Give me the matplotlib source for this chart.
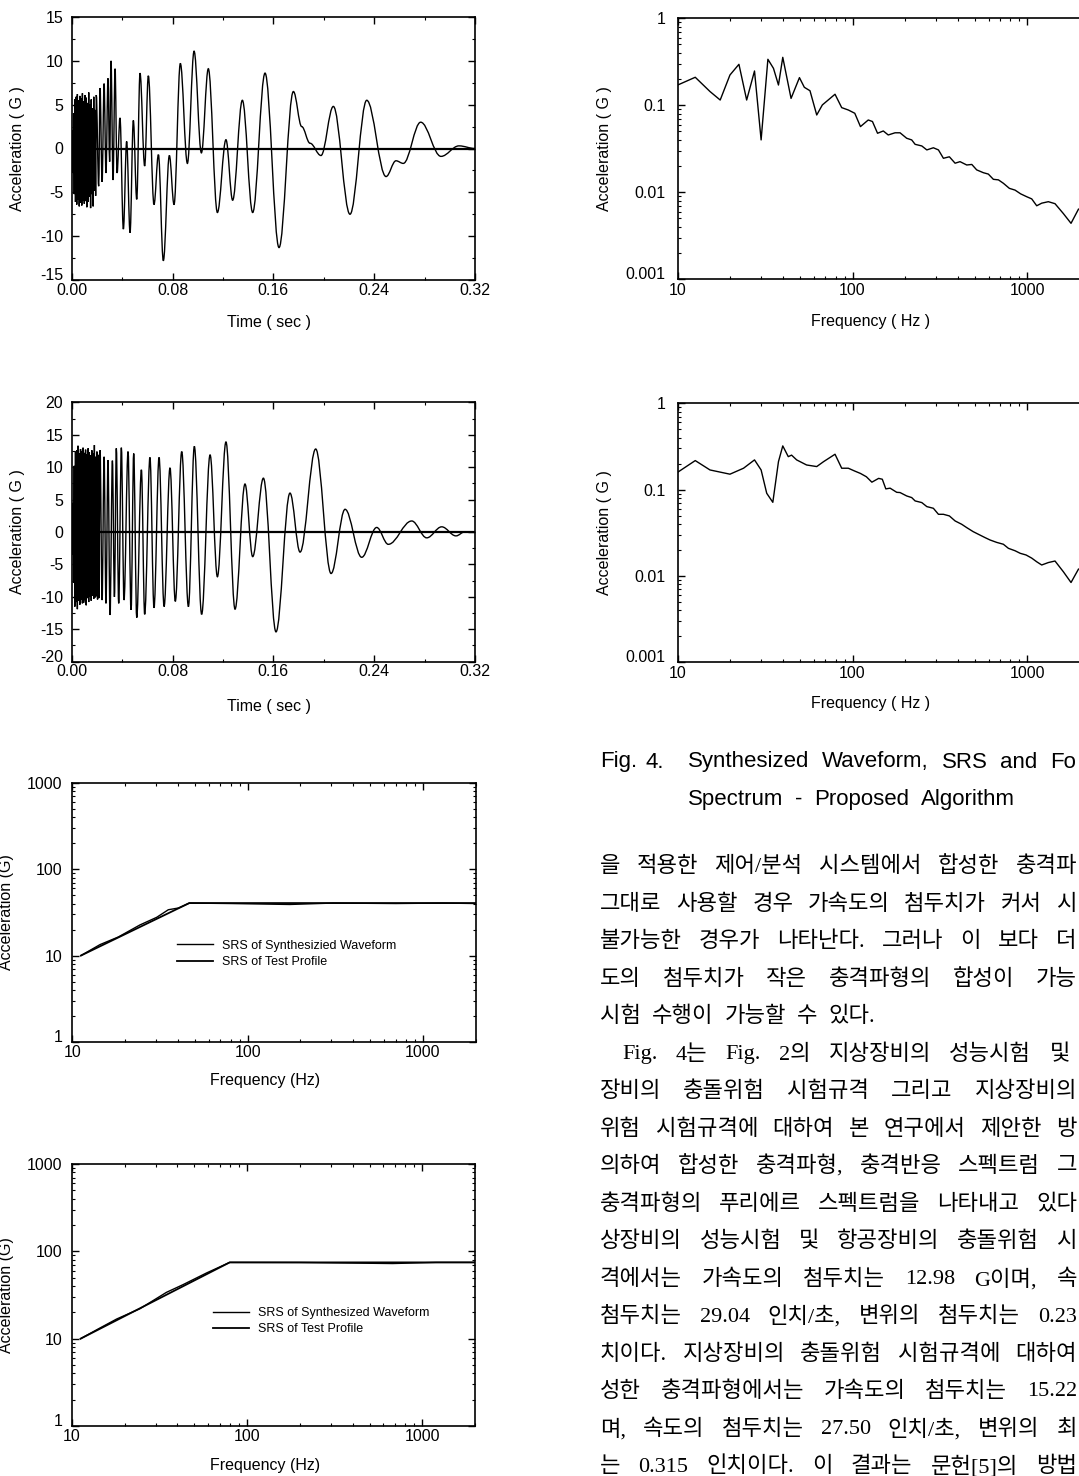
import matplotlib
matplotlib.use("Agg")
import matplotlib.pyplot as plt
from matplotlib.path import Path
from matplotlib.patches import PathPatch
from matplotlib.ticker import (FixedLocator, FixedFormatter, MultipleLocator,
                               LogLocator, NullFormatter)

plt.rcParams['font.family'] = ['Liberation Sans', 'DejaVu Sans']
plt.rcParams['axes.unicode_minus'] = False

# ---------------- data ----------------
TIME_TICKS = [0.00, 0.08, 0.16, 0.24, 0.32]
TIME_LABELS = ['0.00', '0.08', '0.16', '0.24', '0.32']

# waveform 1 : extrema (time s, acceleration G)
W1_DENSE_T = [0.0000, 0.0005, 0.0010, 0.0015, 0.0020, 0.0025, 0.0030, 0.0035, 0.0040, 0.0045,
              0.0050, 0.0055, 0.0060, 0.0065, 0.0070, 0.0075, 0.0080, 0.0085, 0.0090, 0.0095,
              0.0100, 0.0105, 0.0110, 0.0115, 0.0120, 0.0125, 0.0130, 0.0135, 0.0140, 0.0145,
              0.0150, 0.0155, 0.0160, 0.0165, 0.0170, 0.0175, 0.0180, 0.0185, 0.0190, 0.0195]
W1_DENSE_A = [0.0, 2.1, -2.8, 4.0, -5.2, 5.6, -6.1, 5.9, -6.4, 6.2,
              -5.8, 5.5, -6.6, 6.0, -6.2, 5.7, -6.5, 6.3, -5.9, 5.4,
              -6.3, 6.1, -6.0, 5.8, -6.7, 5.2, -6.1, 6.4, -5.5, 5.0,
              -6.8, 5.6, -5.2, 4.6, -6.6, 5.9, -4.8, 4.4, -5.4, 6.1]
W1_T = [0.0214, 0.0225, 0.0241, 0.0257, 0.0272, 0.0288, 0.0301, 0.0312, 0.0328, 0.0344,
        0.0360, 0.0383, 0.0410, 0.0436, 0.0463, 0.0489, 0.0516, 0.0542, 0.0579, 0.0608,
        0.0653, 0.0688, 0.0727, 0.0775, 0.0812, 0.0862, 0.0918, 0.0971, 0.1029, 0.1084,
        0.1156, 0.1224, 0.1277, 0.1354, 0.1436, 0.1534, 0.1645, 0.1759, 0.1825, 0.1891,
        0.1978, 0.2076, 0.2208, 0.2341, 0.2494, 0.2573, 0.2631, 0.2769, 0.2930, 0.3073, 0.3200]
W1_A = [-4.3, 6.9, -3.8, 7.4, -2.8, 8.0, -1.5, 10.0, -3.6, 9.1,
        -2.8, 3.5, -9.2, 0.8, -9.6, 3.2, -5.8, 8.6, -2.0, 8.3,
        -6.4, -0.7, -12.8, -0.8, -6.4, 9.7, -1.7, 11.1, -0.5, 9.1,
        -7.3, 1.0, -5.9, 5.5, -7.3, 8.6, -11.3, 6.5, 2.5, 0.6,
        -0.8, 4.8, -7.5, 5.5, -3.2, -1.4, -1.7, 3.0, -0.9, 0.3, 0.0]

# waveform 2
W2_DENSE_T = [0.0000, 0.0005, 0.0010, 0.0015, 0.0020, 0.0025, 0.0030, 0.0035, 0.0040, 0.0045,
              0.0050, 0.0055, 0.0060, 0.0065, 0.0070, 0.0075, 0.0080, 0.0085, 0.0090, 0.0095,
              0.0100, 0.0105, 0.0110, 0.0115, 0.0120, 0.0125, 0.0130, 0.0135, 0.0140, 0.0145,
              0.0150, 0.0155, 0.0160, 0.0165, 0.0170, 0.0175, 0.0180, 0.0185, 0.0190, 0.0195,
              0.0200, 0.0205, 0.0210, 0.0215]
W2_DENSE_A = [0.0, -3.5, 4.5, -7.8, 10.2, -11.5, 12.4, -10.8, 12.6, -11.9,
              13.3, -10.6, 12.1, -11.2, 12.8, -10.4, 12.5, -11.0, 13.0, -10.9,
              12.2, -10.5, 12.7, -11.3, 12.0, -10.2, 12.9, -10.8, 12.3, -10.0,
              11.8, -10.6, 12.6, -9.8, 12.1, -10.3, 13.4, -10.1, 11.6, -9.9,
              12.4, -10.4, 11.9, -10.2]
W2_T = [0.0225, 0.0241, 0.0257, 0.0272, 0.0288, 0.0304, 0.0323, 0.0339, 0.0354, 0.0373,
        0.0394, 0.0415, 0.0447, 0.0471, 0.0492, 0.0516, 0.0553, 0.0579, 0.0621, 0.0653,
        0.0693, 0.0733, 0.0780, 0.0822, 0.0873, 0.0926, 0.0973, 0.1031, 0.1098, 0.1156,
        0.1224, 0.1296, 0.1375, 0.1436, 0.1521, 0.1621, 0.1732, 0.1812, 0.1936, 0.2058,
        0.2169, 0.2301, 0.2420, 0.2512, 0.2698, 0.2817, 0.2936, 0.3049, 0.3121, 0.3200]
W2_A = [12.6, -10.5, 11.6, -11.0, 11.1, -12.8, 11.0, -10.0, 12.9, -11.0,
        13.0, -10.5, 12.4, -12.0, 12.1, -13.2, 9.6, -12.7, 11.5, -11.7,
        11.5, -11.5, 9.9, -10.7, 12.4, -11.5, 13.2, -12.7, 11.9, -6.9,
        13.9, -11.9, 7.4, -3.8, 8.3, -15.4, 6.0, -3.1, 12.8, -6.4,
        3.5, -3.9, 0.7, -1.9, 1.7, -0.9, 0.8, -0.6, 0.05, 0.0]

# Fourier spectra (Hz, G)
SPEC1_F = [10, 12.6, 15.3, 17.5, 19.9, 22.4, 24.8, 27.5, 30.0, 32.8, 35.3, 37.7, 39.9, 44.5, 49.7,
           53.0, 57.1, 62.4, 67.2, 79.4, 86.7, 94.6, 103, 111, 123, 130, 139, 150, 160, 175,
           187, 204, 218, 228, 249, 266, 290, 310, 331, 358, 386, 412, 450, 481, 513,
           560, 598, 639, 683, 729, 789, 850, 915, 991, 1059, 1131, 1208, 1318, 1439, 1606,
           1777, 1960]
SPEC1_A = [0.171, 0.210, 0.144, 0.115, 0.223, 0.296, 0.115, 0.248, 0.040, 0.338, 0.266, 0.171,
           0.356, 0.120, 0.208, 0.161, 0.147, 0.0774, 0.101, 0.134, 0.094, 0.0883, 0.081,
           0.0569, 0.0678, 0.0651, 0.0477, 0.0507, 0.0456, 0.0483, 0.0483, 0.0418, 0.040,
           0.0356, 0.0341, 0.0307, 0.0325, 0.0307, 0.0246, 0.0256, 0.0216, 0.0225, 0.0206,
           0.0209, 0.0181, 0.0168, 0.0162, 0.0141, 0.0139, 0.0127, 0.0111, 0.0106, 0.0096,
           0.0089, 0.0084, 0.0070, 0.0075, 0.0078, 0.0074, 0.0057, 0.0044, 0.0064]
SPEC2_F = [10, 12.6, 15.3, 19.9, 23.8, 27.5, 30.0, 32.3, 35.0, 37.7, 39.9, 42.9, 44.8, 47.9, 54.6,
           62.4, 68.3, 79.4, 86.7, 94.6, 103, 111, 120, 129, 141, 148, 155, 164, 179, 187,
           204, 218, 228, 249, 266, 290, 310, 331, 358, 386, 421, 450, 490, 523, 573,
           612, 667, 729, 779, 850, 910, 983, 1059, 1131, 1208, 1318, 1439, 1606, 1777, 1960]
SPEC2_A = [0.159, 0.217, 0.169, 0.151, 0.177, 0.221, 0.169, 0.0907, 0.0713, 0.211, 0.321, 0.241,
           0.251, 0.221, 0.193, 0.185, 0.211, 0.257, 0.177, 0.177, 0.164, 0.154, 0.141, 0.122,
           0.135, 0.132, 0.102, 0.104, 0.0931, 0.0925, 0.0845, 0.0809, 0.074, 0.0708, 0.0636,
           0.0608, 0.0518, 0.0518, 0.0496, 0.0434, 0.0397, 0.0363, 0.0326, 0.0305, 0.0278,
           0.0261, 0.0245, 0.0233, 0.0209, 0.0196, 0.0183, 0.0175, 0.0161, 0.0146, 0.0134,
           0.0143, 0.0149, 0.0112, 0.0084, 0.012]

# Shock response spectra (Hz, G)
SRS1_SYN_F = [11.2, 14.4, 18.3, 24.3, 30.3, 35.3, 40.3, 46.5, 80, 174, 308, 700, 1300, 2000]
SRS1_SYN_A = [10.0, 13.4, 16.4, 22.6, 27.7, 33.9, 35.5, 40.5, 40.0, 39.0, 40.5, 40.0, 40.5, 40.0]
SRS1_PRO_F = [11.2, 46.5, 2000]
SRS1_PRO_A = [10.0, 40.5, 40.5]
SRS2_SYN_F = [11.2, 14.4, 18.0, 24.4, 34.6, 43.0, 58.6, 79.5, 200, 677, 1200, 2000]
SRS2_SYN_A = [10.0, 13.2, 16.8, 22.0, 33.9, 41.5, 56.5, 74.7, 74.5, 72.5, 74.7, 74.7]
SRS2_PRO_F = [11.2, 79.5, 2000]
SRS2_PRO_A = [10.0, 74.7, 74.7]

SRS1_LABELS = ['SRS of Synthesizied Waveform', 'SRS of Test Profile']
SRS2_LABELS = ['SRS of Synthesized Waveform', 'SRS of Test Profile']

CAPTION = [["Fig.", "4."],
           ["Synthesized", "Waveform,", "SRS", "and", "Fo"],
           ["Spectrum", "-", "Proposed", "Algorithm"]]

BODY = [
    ["을", "적용한", "제어/분석", "시스템에서", "합성한", "충격파"],
    ["그대로", "사용할", "경우", "가속도의", "첨두치가", "커서", "시"],
    ["불가능한", "경우가", "나타난다.", "그러나", "이", "보다", "더"],
    ["도의", "첨두치가", "작은", "충격파형의", "합성이", "가능"],
    ["시험", "수행이", "가능할", "수", "있다."],
    ["Fig.", "4는", "Fig.", "2의", "지상장비의", "성능시험", "및"],
    ["장비의", "충돌위험", "시험규격", "그리고", "지상장비의"],
    ["위험", "시험규격에", "대하여", "본", "연구에서", "제안한", "방"],
    ["의하여", "합성한", "충격파형,", "충격반응", "스펙트럼", "그"],
    ["충격파형의", "푸리에르", "스펙트럼을", "나타내고", "있다"],
    ["상장비의", "성능시험", "및", "항공장비의", "충돌위험", "시"],
    ["격에서는", "가속도의", "첨두치는", "12.98", "G이며,", "속"],
    ["첨두치는", "29.04", "인치/초,", "변위의", "첨두치는", "0.23"],
    ["치이다.", "지상장비의", "충돌위험", "시험규격에", "대하여"],
    ["성한", "충격파형에서는", "가속도의", "첨두치는", "15.22"],
    ["며,", "속도의", "첨두치는", "27.50", "인치/초,", "변위의", "최"],
    ["는", "0.315", "인치이다.", "이", "결과는", "문헌[5]의", "방법"],
]
# layout for body lines: (y centre px, left px, right px or None for natural spacing)
BODY_LAYOUT = [(867, 600, 1077), (905, 600, 1077), (942, 600, 1076), (980, 600, 1077),
               (1017, 600, None), (1055, 622, 1070), (1092, 600, 1077), (1130, 600, 1077),
               (1167, 600, 1077), (1205, 600, 1077), (1242, 600, 1077), (1280, 600, 1077),
               (1317, 600, 1077), (1355, 600, 1077), (1392, 600, 1077), (1430, 600, 1077),
               (1467, 600, 1077)]

# ---------------- figure ----------------
W, H = 1079, 1476
fig = plt.figure(figsize=(W / 100, H / 100), dpi=100)
fig.patch.set_facecolor('white')


def rect(l, r, t, b):
    return [l / W, 1 - b / H, (r - l) / W, (b - t) / H]


def smooth_path(t, a, k=0.364):
    verts = [(t[0], a[0])]
    codes = [Path.MOVETO]
    for i in range(len(t) - 1):
        dt = t[i + 1] - t[i]
        verts += [(t[i] + k * dt, a[i]), (t[i + 1] - k * dt, a[i + 1]), (t[i + 1], a[i + 1])]
        codes += [Path.CURVE4] * 3
    return Path(verts, codes)


TICK_FS = 11.5
LABEL_FS = 11.5


def style(ax, ypad=6, xpad=2, right=True):
    for s in ax.spines.values():
        s.set_linewidth(1.2)
    ax.tick_params(which='both', direction='in', top=True, right=right, colors='black')
    ax.tick_params(which='major', length=5, width=1.0, labelsize=TICK_FS)
    ax.tick_params(which='minor', length=2.5, width=0.8)
    ax.tick_params(axis='y', which='major', pad=ypad)
    ax.tick_params(axis='x', which='major', pad=xpad)


def lift_bottom_label(ax):
    labels = ax.get_yticklabels()
    if labels:
        labels[0].set_va('baseline')


def waveform(ax, t, a, ymax, ystep, ylab_x, xlab_y):
    ax.set_xlim(0, 0.32)
    ax.set_ylim(-ymax, ymax)
    ax.axhline(0, color='black', lw=1.6, zorder=2)
    ax.add_patch(PathPatch(smooth_path(t, a), fill=False, lw=1.0, ec='black', zorder=3))
    ax.xaxis.set_major_locator(FixedLocator(TIME_TICKS))
    ax.xaxis.set_major_formatter(FixedFormatter(TIME_LABELS))
    ax.xaxis.set_minor_locator(MultipleLocator(0.04))
    ax.yaxis.set_major_locator(FixedLocator(list(range(-ymax, ymax + 1, ystep))))
    ax.yaxis.set_major_formatter(FixedFormatter([str(v) for v in range(-ymax, ymax + 1, ystep)]))
    ax.yaxis.set_minor_locator(MultipleLocator(ystep / 2))
    style(ax, ypad=6, xpad=2)
    ax.set_ylabel('Acceleration ( G )', fontsize=LABEL_FS, va='center')
    ax.set_xlabel('Time ( sec )', fontsize=LABEL_FS, va='center')
    ax.yaxis.set_label_coords(ylab_x, 0.5)
    ax.xaxis.set_label_coords(0.49, xlab_y)
    lift_bottom_label(ax)


def log_axes(ax, xlim, ylim, yt, ytl):
    ax.set_xscale('log')
    ax.set_yscale('log')
    ax.set_xlim(*xlim)
    ax.set_ylim(*ylim)
    ax.xaxis.set_major_locator(FixedLocator([10, 100, 1000]))
    ax.xaxis.set_major_formatter(FixedFormatter(['10', '100', '1000']))
    ax.xaxis.set_minor_locator(LogLocator(base=10, subs=range(2, 10)))
    ax.xaxis.set_minor_formatter(NullFormatter())
    ax.yaxis.set_major_locator(FixedLocator(yt))
    ax.yaxis.set_major_formatter(FixedFormatter(ytl))
    ax.yaxis.set_minor_locator(LogLocator(base=10, subs=range(2, 10)))
    ax.yaxis.set_minor_formatter(NullFormatter())


def spectrum(ax, f, a, xlab_y):
    ax.plot(f, a, color='black', lw=1.0)
    log_axes(ax, (10, 2000), (0.001, 1), [0.001, 0.01, 0.1, 1], ['0.001', '0.01', '0.1', '1'])
    style(ax, ypad=9, xpad=3, right=False)
    ax.set_ylabel('Acceleration ( G )', fontsize=LABEL_FS, va='center')
    ax.set_xlabel('Frequency ( Hz )', fontsize=LABEL_FS, va='center')
    ax.yaxis.set_label_coords(-0.181, 0.5)
    ax.xaxis.set_label_coords(0.48, xlab_y)
    lift_bottom_label(ax)


def srs(ax, fs, as_, fp, ap, labels, leg_xy):
    l1, = ax.plot(fs, as_, color='black', lw=1.0)
    l2, = ax.plot(fp, ap, color='black', lw=1.3)
    log_axes(ax, (10, 2000), (1, 1000), [1, 10, 100, 1000], ['1', '10', '100', '1000'])
    style(ax, ypad=7, xpad=2)
    ax.set_ylabel('Acceleration (G)', fontsize=LABEL_FS, va='center')
    ax.set_xlabel('Frequency (Hz)', fontsize=LABEL_FS, va='center')
    ax.yaxis.set_label_coords(-0.162, 0.5)
    ax.xaxis.set_label_coords(0.479, -0.15)
    ax.legend([l1, l2], labels, loc='upper left', bbox_to_anchor=leg_xy, frameon=False,
              fontsize=9, handlelength=2.9, handletextpad=0.7, labelspacing=0.35,
              borderaxespad=0, borderpad=0)
    lift_bottom_label(ax)


# text layer (pixel coordinates, y downward)
ax_txt = fig.add_axes([0, 0, 1, 1])
ax_txt.set_axis_off()
ax_txt.set_xlim(0, W)
ax_txt.set_ylim(H, 0)

ax1 = fig.add_axes(rect(71.7, 475, 17, 280))
waveform(ax1, W1_DENSE_T + W1_T, W1_DENSE_A + W1_A, 15, 5, -0.134, -0.16)
ax2 = fig.add_axes(rect(71.7, 475, 402.3, 661.7))
waveform(ax2, W2_DENSE_T + W2_T, W2_DENSE_A + W2_A, 20, 5, -0.134, -0.174)

ax3 = fig.add_axes(rect(677.7, 1080, 18.3, 279.3))
spectrum(ax3, SPEC1_F, SPEC1_A, -0.162)
ax4 = fig.add_axes(rect(677.7, 1080, 403.3, 662.3))
spectrum(ax4, SPEC2_F, SPEC2_A, -0.161)

ax5 = fig.add_axes(rect(72.3, 475.7, 782.7, 1042))
srs(ax5, SRS1_SYN_F, SRS1_SYN_A, SRS1_PRO_F, SRS1_PRO_A, SRS1_LABELS, (0.26, 0.394))
ax6 = fig.add_axes(rect(72, 475, 1164, 1426))
srs(ax6, SRS2_SYN_F, SRS2_SYN_A, SRS2_PRO_F, SRS2_PRO_A, SRS2_LABELS, (0.35, 0.454))

renderer = fig.canvas.get_renderer()
BODY_FONT = ['Liberation Serif', 'Noto Sans CJK KR', 'DejaVu Sans']
CAP_FONT = ['Liberation Sans', 'DejaVu Sans']


def place_line(words, y, x0, x1, family, size, natural_gap=11):
    texts = [ax_txt.text(0, y, w, fontfamily=family, fontsize=size, ha='left',
                         va='center', color='black', clip_on=True) for w in words]
    widths = [t.get_window_extent(renderer).width for t in texts]
    if x1 is None or len(words) < 2:
        gap = natural_gap
    else:
        gap = (x1 - x0 - sum(widths)) / (len(words) - 1)
    x = x0
    for t, w in zip(texts, widths):
        t.set_x(x)
        x += w + gap


place_line(CAPTION[0], 762, 600, None, CAP_FONT, 16, natural_gap=8)
place_line(CAPTION[1], 762, 688, 1076, CAP_FONT, 16)
place_line(CAPTION[2], 799, 688, 1015, CAP_FONT, 16)

for words, (y, x0, x1) in zip(BODY, BODY_LAYOUT):
    place_line(words, y, x0, x1, BODY_FONT, 16)

fig.savefig('out.png', dpi=100, facecolor='white')
